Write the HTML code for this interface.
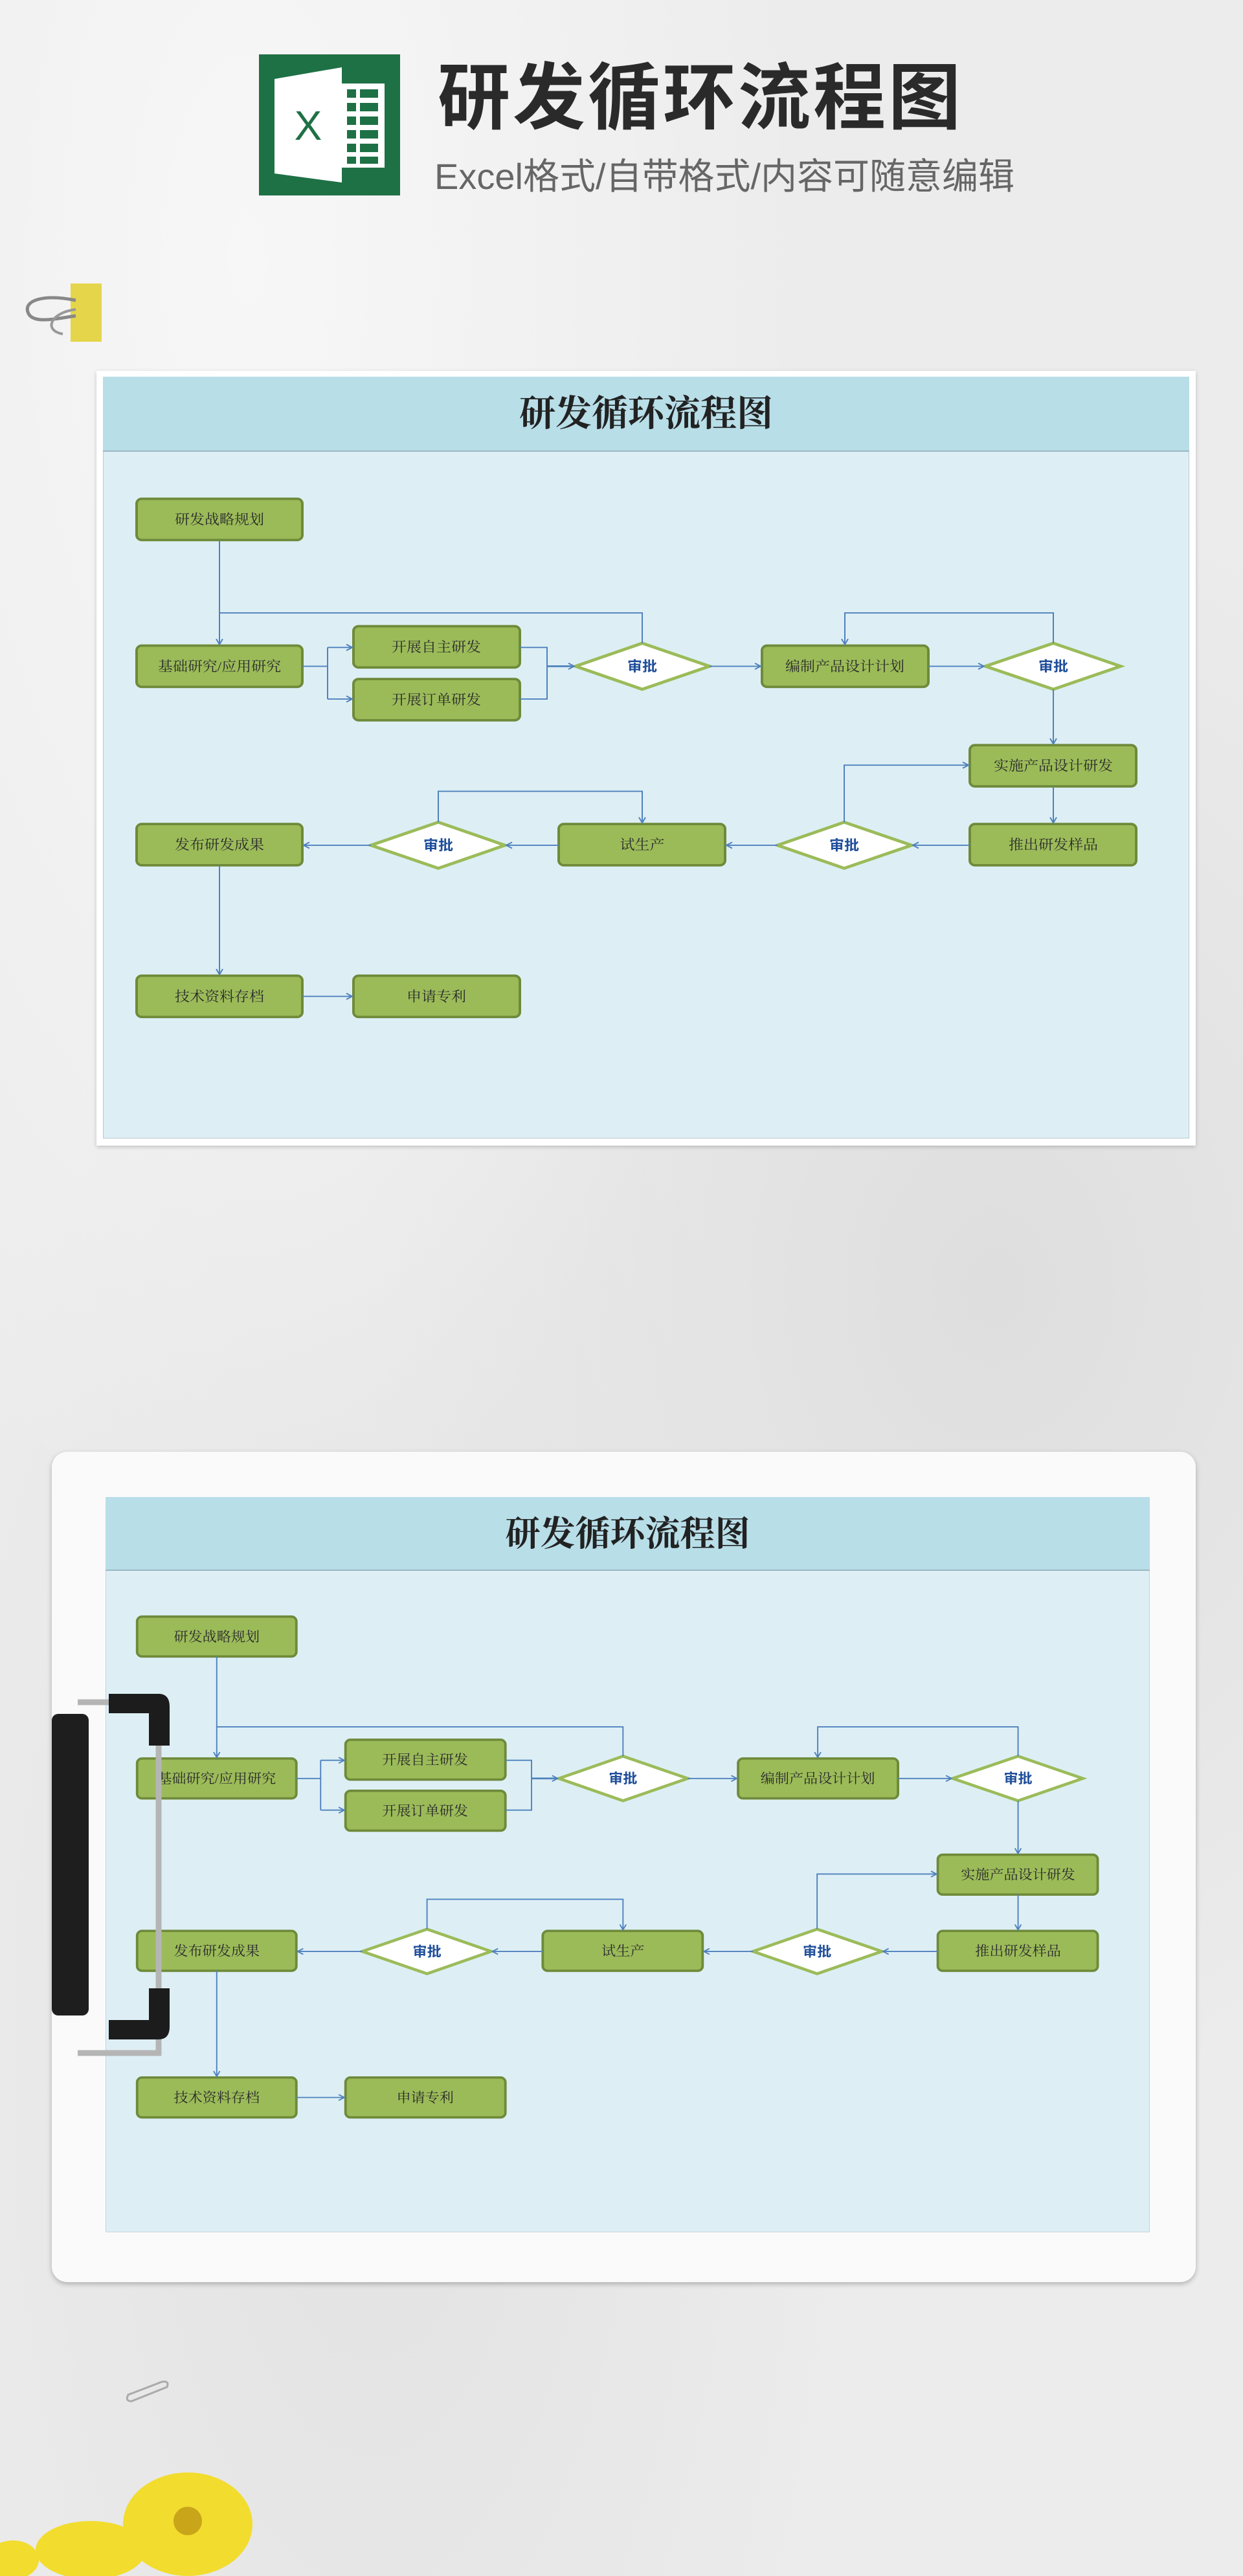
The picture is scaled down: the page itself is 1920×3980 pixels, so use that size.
<!DOCTYPE html>
<html><head><meta charset="utf-8">
<style>
html,body{margin:0;padding:0}
body{width:1920px;height:3980px;position:relative;overflow:hidden;
background:radial-gradient(ellipse at 20% 10%,#f7f7f7 0%,rgba(240,240,240,0) 40%),radial-gradient(ellipse at 80% 50%,#dedede 0%,rgba(230,230,230,0) 45%),radial-gradient(ellipse at 30% 80%,#e2e2e2 0%,rgba(230,230,230,0) 40%),#ececec;
font-family:"Liberation Sans","Noto Sans CJK SC",sans-serif}
.abs{position:absolute}
</style></head><body>
<!-- header -->
<div class="abs" style="left:400px;top:84px;width:218px;height:218px;background:#1e7145"></div>
<svg class="abs" style="left:400px;top:84px" width="218" height="218">
<polygon points="24,38 128,20 128,198 24,184" fill="#fff"/>
<rect x="128" y="45" width="66" height="130" fill="#fff"/>
<g fill="#1e7145"><rect x="136" y="54" width="14" height="13"/><rect x="156" y="54" width="28" height="13"/>
<rect x="136" y="75" width="14" height="13"/><rect x="156" y="75" width="28" height="13"/>
<rect x="136" y="96" width="14" height="13"/><rect x="156" y="96" width="28" height="13"/>
<rect x="136" y="117" width="14" height="13"/><rect x="156" y="117" width="28" height="13"/>
<rect x="136" y="138" width="14" height="13"/><rect x="156" y="138" width="28" height="13"/>
<rect x="136" y="158" width="14" height="11"/><rect x="156" y="158" width="28" height="11"/></g>
<text x="76" y="132" font-size="64" fill="#1e7145" text-anchor="middle" font-family="Liberation Sans,sans-serif">X</text>
</svg>
<div class="abs" style="left:676px;top:90px;font-size:112px;line-height:124px;color:#2a2a2a;font-weight:bold;letter-spacing:4px;font-family:'Liberation Sans','Noto Sans CJK SC',sans-serif">研发循环流程图</div>
<div class="abs" style="left:671px;top:240px;font-size:56px;line-height:66px;color:#666;font-family:'Liberation Sans','Noto Sans CJK SC',sans-serif">Excel格式/自带格式/内容可随意编辑</div>
<!-- binder clip -->
<svg class="abs" style="left:37px;top:436px" width="120" height="95">
<rect x="72" y="2" width="80" height="90" fill="#e5d54a"/>
<path d="M80,28 C30,18 0,28 6,46 C12,66 50,56 80,52" fill="none" stroke="#888" stroke-width="5"/>
<path d="M80,42 C40,47 30,75 60,80" fill="none" stroke="#999" stroke-width="4"/>
</svg>

<!-- card 1 -->
<div class="abs" style="left:149px;top:573px;width:1698px;height:1197px;background:#fff;box-shadow:0 2px 6px rgba(0,0,0,.2)"></div>
<div class="abs" style="left:159px;top:582px;width:1678px;height:1177px;background:#ddeff5;border:1px solid #b9c9cf;box-sizing:border-box"></div>
<div class="abs" style="left:159px;top:582px;width:1678px;height:116px;background:#b8dee8;border-bottom:2px solid #9bb8c2;box-sizing:border-box;text-align:center;font:bold 56px/116px 'Liberation Serif','Noto Serif CJK SC',serif;color:#222">研发循环流程图</div>

<!-- card 2 -->
<div class="abs" style="left:80px;top:2243px;width:1767px;height:1283px;background:#fafafa;border-radius:24px;box-shadow:0 3px 8px rgba(0,0,0,.25)"></div>
<div class="abs" style="left:163px;top:2313px;width:1613px;height:1136px;background:#ddeff5;border:1px solid #c7d4d8;box-sizing:border-box"></div>
<div class="abs" style="left:163px;top:2313px;width:1613px;height:114px;background:#b8dee8;border-bottom:2px solid #9bb8c2;box-sizing:border-box;text-align:center;font:bold 54px/114px 'Liberation Serif','Noto Serif CJK SC',serif;color:#222">研发循环流程图</div>

<svg class="abs" style="left:0;top:0" width="1920" height="3980">
<defs>
<marker id="ar" markerWidth="12" markerHeight="12" refX="10" refY="6" orient="auto" markerUnits="userSpaceOnUse"><path d="M1,1 L10,6 L1,11" fill="none" stroke="#4f81bd" stroke-width="2"/></marker>
</defs>
<style>
.b{fill:#9bbb59;stroke:#6f8a3a;stroke-width:4}
.d{fill:#fff;stroke:#9bbb59;stroke-width:5}
.t{font-family:"Liberation Serif","Noto Serif CJK SC",serif;font-size:23px;fill:#2a2a2a;text-anchor:middle}
.q{font-family:"Liberation Sans","Noto Sans CJK SC",sans-serif;font-size:23px;font-weight:bold;fill:#1f4e9a;text-anchor:middle}
.l{fill:none;stroke:#4f81bd;stroke-width:2}
</style>
<g transform="scale(1,0.9375)">
<rect class="b" x="211" y="822" width="256" height="68" rx="8"/><text class="t" x="339" y="864">研发战略规划</text>
<rect class="b" x="211" y="1064" width="256" height="68" rx="8"/><text class="t" x="339" y="1106">基础研究/应用研究</text>
<rect class="b" x="546" y="1032" width="257" height="68" rx="8"/><text class="t" x="674" y="1074">开展自主研发</text>
<rect class="b" x="546" y="1119" width="257" height="68" rx="8"/><text class="t" x="674" y="1161">开展订单研发</text>
<rect class="b" x="1177" y="1064" width="257" height="68" rx="8"/><text class="t" x="1305" y="1106">编制产品设计计划</text>
<rect class="b" x="1498" y="1228" width="257" height="68" rx="8"/><text class="t" x="1627" y="1270">实施产品设计研发</text>
<rect class="b" x="1498" y="1358" width="257" height="68" rx="8"/><text class="t" x="1627" y="1400">推出研发样品</text>
<rect class="b" x="863" y="1358" width="257" height="68" rx="8"/><text class="t" x="992" y="1400">试生产</text>
<rect class="b" x="211" y="1358" width="256" height="68" rx="8"/><text class="t" x="339" y="1400">发布研发成果</text>
<rect class="b" x="211" y="1608" width="256" height="68" rx="8"/><text class="t" x="339" y="1650">技术资料存档</text>
<rect class="b" x="546" y="1608" width="257" height="68" rx="8"/><text class="t" x="674" y="1650">申请专利</text>
<polygon class="d" points="889,1098 992,1060 1096,1098 992,1136"/><text class="q" x="992" y="1106">审批</text>
<polygon class="d" points="1522,1098 1627,1060 1731,1098 1627,1136"/><text class="q" x="1627" y="1106">审批</text>
<polygon class="d" points="1201,1393 1304,1355 1408,1393 1304,1431"/><text class="q" x="1304" y="1401">审批</text>
<polygon class="d" points="573,1393 677,1355 780,1393 677,1431"/><text class="q" x="677" y="1401">审批</text>
<path class="l" d="M339,890 V1062" marker-end="url(#ar)"/>
<path class="l" d="M339,1010 H992 V1060"/>
<path class="l" d="M467,1098 H506 M506,1067 V1152"/>
<path class="l" d="M506,1067 H544" marker-end="url(#ar)"/>
<path class="l" d="M506,1152 H544" marker-end="url(#ar)"/>
<path class="l" d="M803,1067 H845 V1152 H803"/>
<path class="l" style="stroke-width:3" d="M845,1098 H887" marker-end="url(#ar)"/>
<path class="l" d="M1096,1098 H1175" marker-end="url(#ar)"/>
<path class="l" d="M1434,1098 H1520" marker-end="url(#ar)"/>
<path class="l" d="M1627,1060 V1010 H1305 V1062" marker-end="url(#ar)"/>
<path class="l" d="M1627,1136 V1226" marker-end="url(#ar)"/>
<path class="l" d="M1627,1296 V1356" marker-end="url(#ar)"/>
<path class="l" d="M1498,1393 H1410" marker-end="url(#ar)"/>
<path class="l" d="M1304,1355 V1261 H1496" marker-end="url(#ar)"/>
<path class="l" d="M1201,1393 H1122" marker-end="url(#ar)"/>
<path class="l" d="M863,1393 H782" marker-end="url(#ar)"/>
<path class="l" d="M677,1355 V1304 H992 V1356" marker-end="url(#ar)"/>
<path class="l" d="M573,1393 H469" marker-end="url(#ar)"/>
<path class="l" d="M339,1426 V1606" marker-end="url(#ar)"/>
<path class="l" d="M467,1642 H544" marker-end="url(#ar)"/>
</g>
<g transform="translate(9,1753) scale(0.961,0.906)">
<rect class="b" x="211" y="822" width="256" height="68" rx="8"/><text class="t" x="339" y="864">研发战略规划</text>
<rect class="b" x="211" y="1064" width="256" height="68" rx="8"/><text class="t" x="339" y="1106">基础研究/应用研究</text>
<rect class="b" x="546" y="1032" width="257" height="68" rx="8"/><text class="t" x="674" y="1074">开展自主研发</text>
<rect class="b" x="546" y="1119" width="257" height="68" rx="8"/><text class="t" x="674" y="1161">开展订单研发</text>
<rect class="b" x="1177" y="1064" width="257" height="68" rx="8"/><text class="t" x="1305" y="1106">编制产品设计计划</text>
<rect class="b" x="1498" y="1228" width="257" height="68" rx="8"/><text class="t" x="1627" y="1270">实施产品设计研发</text>
<rect class="b" x="1498" y="1358" width="257" height="68" rx="8"/><text class="t" x="1627" y="1400">推出研发样品</text>
<rect class="b" x="863" y="1358" width="257" height="68" rx="8"/><text class="t" x="992" y="1400">试生产</text>
<rect class="b" x="211" y="1358" width="256" height="68" rx="8"/><text class="t" x="339" y="1400">发布研发成果</text>
<rect class="b" x="211" y="1608" width="256" height="68" rx="8"/><text class="t" x="339" y="1650">技术资料存档</text>
<rect class="b" x="546" y="1608" width="257" height="68" rx="8"/><text class="t" x="674" y="1650">申请专利</text>
<polygon class="d" points="889,1098 992,1060 1096,1098 992,1136"/><text class="q" x="992" y="1106">审批</text>
<polygon class="d" points="1522,1098 1627,1060 1731,1098 1627,1136"/><text class="q" x="1627" y="1106">审批</text>
<polygon class="d" points="1201,1393 1304,1355 1408,1393 1304,1431"/><text class="q" x="1304" y="1401">审批</text>
<polygon class="d" points="573,1393 677,1355 780,1393 677,1431"/><text class="q" x="677" y="1401">审批</text>
<path class="l" d="M339,890 V1062" marker-end="url(#ar)"/>
<path class="l" d="M339,1010 H992 V1060"/>
<path class="l" d="M467,1098 H506 M506,1067 V1152"/>
<path class="l" d="M506,1067 H544" marker-end="url(#ar)"/>
<path class="l" d="M506,1152 H544" marker-end="url(#ar)"/>
<path class="l" d="M803,1067 H845 V1152 H803"/>
<path class="l" style="stroke-width:3" d="M845,1098 H887" marker-end="url(#ar)"/>
<path class="l" d="M1096,1098 H1175" marker-end="url(#ar)"/>
<path class="l" d="M1434,1098 H1520" marker-end="url(#ar)"/>
<path class="l" d="M1627,1060 V1010 H1305 V1062" marker-end="url(#ar)"/>
<path class="l" d="M1627,1136 V1226" marker-end="url(#ar)"/>
<path class="l" d="M1627,1296 V1356" marker-end="url(#ar)"/>
<path class="l" d="M1498,1393 H1410" marker-end="url(#ar)"/>
<path class="l" d="M1304,1355 V1261 H1496" marker-end="url(#ar)"/>
<path class="l" d="M1201,1393 H1122" marker-end="url(#ar)"/>
<path class="l" d="M863,1393 H782" marker-end="url(#ar)"/>
<path class="l" d="M677,1355 V1304 H992 V1356" marker-end="url(#ar)"/>
<path class="l" d="M573,1393 H469" marker-end="url(#ar)"/>
<path class="l" d="M339,1426 V1606" marker-end="url(#ar)"/>
<path class="l" d="M467,1642 H544" marker-end="url(#ar)"/>
</g>
<!-- clipboard clip -->
<rect x="80" y="2648" width="57" height="466" rx="10" fill="#1e1e1e"/>
<path d="M120,2630 H245 V3172 H120" fill="none" stroke="#b5b5b5" stroke-width="9"/>
<path d="M168,2617 H245 Q262,2617 262,2637 V2697 H230 V2647 H168 Z" fill="#1c1c1c"/>
<path d="M168,3151 H245 Q262,3151 262,3131 V3072 H230 V3121 H168 Z" fill="#1c1c1c"/>
<!-- paper clip & flowers -->
<path d="M198,3700 L250,3680 Q262,3678 258,3688 L203,3710 Q193,3710 198,3700 Z" fill="none" stroke="#aaa" stroke-width="3"/>
<g fill="#f2dc2e">
<ellipse cx="290" cy="3900" rx="100" ry="80"/>
<ellipse cx="140" cy="3940" rx="85" ry="45"/>
<ellipse cx="20" cy="3955" rx="40" ry="30"/>
</g>
<circle cx="290" cy="3895" r="22" fill="#c9a51a"/>
</svg>
</body></html>
